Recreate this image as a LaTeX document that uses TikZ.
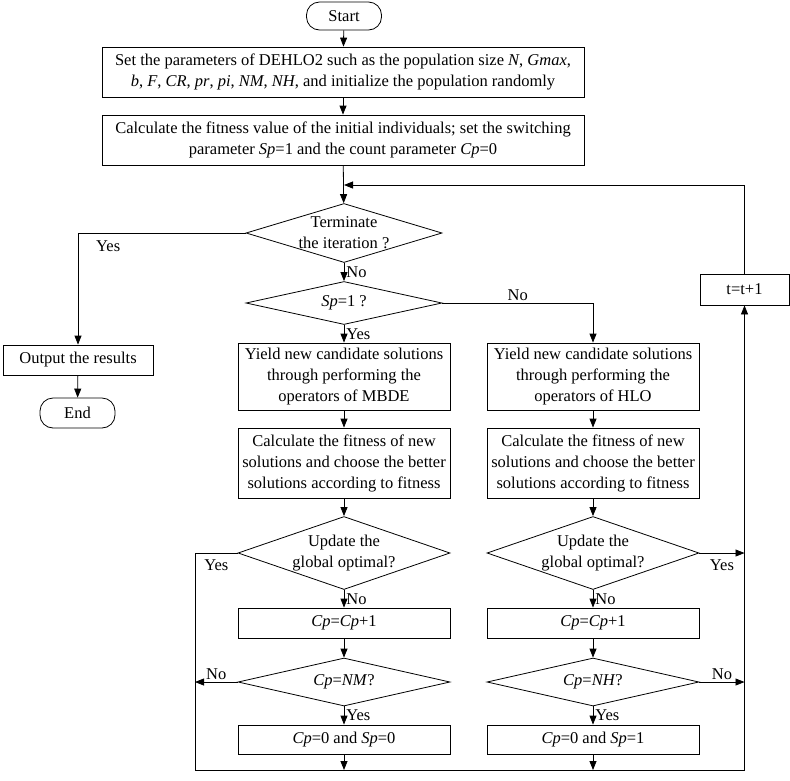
\documentclass[tikz,border=0pt]{standalone}
\usepackage{fontspec}
\setmainfont{Liberation Serif}
\usetikzlibrary{arrows.meta, positioning, shapes.geometric}

\begin{document}
\begin{tikzpicture}[
  x=1pt, y=-1pt, line width=0.8pt,
  font=\fontsize{16.5}{21}\selectfont,
  term/.style={draw, rounded corners=13pt, minimum width=75pt, minimum height=28pt, inner sep=2pt},
  proc/.style={draw, align=center, minimum width=212pt, inner sep=1pt},
  dec/.style={draw, diamond, minimum width=212pt, inner sep=0pt},
  lbl/.style={inner sep=2pt},
  arr/.style={-{Triangle[length=9pt, width=7pt]}}
]
\useasboundingbox (0,0) rectangle (790,780);

\node[term] (start) at (344,16) {Start};
\node[proc, minimum width=482pt, minimum height=50pt] (params) at (343,72)
  {Set the parameters of DEHLO2 such as the population size \textit{N}, \textit{Gmax},\\
   \textit{b}, \textit{F}, \textit{CR}, \textit{pr}, \textit{pi}, \textit{NM}, \textit{NH}, and initialize the population randomly};
\node[proc, minimum width=482pt, minimum height=50pt] (init) at (343,140)
  {Calculate the fitness value of the initial individuals; set the switching\\
   parameter \textit{Sp}=1 and the count parameter \textit{Cp}=0};
\node[dec, minimum width=196pt, minimum height=59pt,
  label={[align=center]center:Terminate\\the iteration ?}] (iter) at (344,233) {};
\node[dec, minimum width=196pt, minimum height=43pt,
  label={center:\textit{Sp}=1 ?}] (sp) at (344,303) {};

\node[proc, minimum width=150pt, minimum height=30pt] (output) at (78,360) {Output the results};
\node[term, minimum height=30pt] (end) at (77.5,413) {End};

\node[proc, minimum height=67pt] (mbde) at (344,376.5)
  {Yield new candidate solutions\\through performing the\\operators of MBDE};
\node[proc, minimum height=70pt] (fitm) at (344,463)
  {Calculate the fitness of new\\solutions and choose the better\\solutions according to fitness};
\node[dec, minimum height=73pt,
  label={[align=center]center:Update the\\global optimal?}] (updm) at (344,553) {};
\node[proc, minimum height=30pt] (cpm) at (344,623) {\textit{Cp}=\textit{Cp}+1};
\node[dec, minimum height=48pt,
  label={center:\textit{Cp}=\textit{NM}?}] (nm) at (344,682) {};
\node[proc, minimum height=29pt] (resm) at (344,739.5) {\textit{Cp}=0 and \textit{Sp}=0};

\node[proc, minimum height=67pt] (hlo) at (593,376.5)
  {Yield new candidate solutions\\through performing the\\operators of HLO};
\node[proc, minimum height=70pt] (fith) at (593,463)
  {Calculate the fitness of new\\solutions and choose the better\\solutions according to fitness};
\node[dec, minimum height=73pt,
  label={[align=center]center:Update the\\global optimal?}] (updh) at (593,553) {};
\node[proc, minimum height=30pt] (cph) at (593,623) {\textit{Cp}=\textit{Cp}+1};
\node[dec, minimum height=48pt,
  label={center:\textit{Cp}=\textit{NH}?}] (nh) at (593,682) {};
\node[proc, minimum height=29pt] (resh) at (593,739.5) {\textit{Cp}=0 and \textit{Sp}=1};

\node[proc, minimum width=89pt, minimum height=31pt] (tinc) at (744.5,289.5) {t=t+1};

\coordinate (bl) at (195,770);
\coordinate (br) at (744.5,770);
\coordinate (loop) at (344,185);

\draw[arr] (start) -- (params);
\draw[arr] (params) -- (init);
\draw[arr] (init) -- (iter);
\draw[arr] (iter.west) -| node[lbl, pos=0.41, below=5pt] {Yes} (output);
\draw[arr] (output) -- (end);
\draw[arr] (iter) -- node[lbl, right] {No} (sp);
\draw[arr] (sp) -- node[lbl, right] {Yes} (mbde);
\draw[arr] (sp.east) -| node[lbl, pos=0.25, above] {No} (hlo);

\draw[arr] (mbde) -- (fitm);
\draw[arr] (fitm) -- (updm);
\draw[arr] (updm) -- node[lbl, right] {No} (cpm);
\draw[arr] (cpm) -- (nm);
\draw[arr] (nm) -- node[lbl, right] {Yes} (resm);
\draw[arr] (resm) -- (resm |- bl);

\draw[arr] (hlo) -- (fith);
\draw[arr] (fith) -- (updh);
\draw[arr] (updh) -- node[lbl, right] {No} (cph);
\draw[arr] (cph) -- (nh);
\draw[arr] (nh) -- node[lbl, right] {Yes} (resh);
\draw[arr] (resh) -- (resh |- bl);

\draw[arr] (updm.west) -| node[lbl, pos=0.25, below=4pt] {Yes} (bl) -- (br) -- (tinc);
\draw[arr] (nm.west) -- node[lbl, above] {No} (nm.west -| bl);
\draw[arr] (updh.east) -- node[lbl, below=4pt] {Yes} (updh.east -| br);
\draw[arr] (nh.east) -- node[lbl, above] {No} (nh.east -| br);
\draw[arr] (tinc) |- (loop);
\end{tikzpicture}
\end{document}
